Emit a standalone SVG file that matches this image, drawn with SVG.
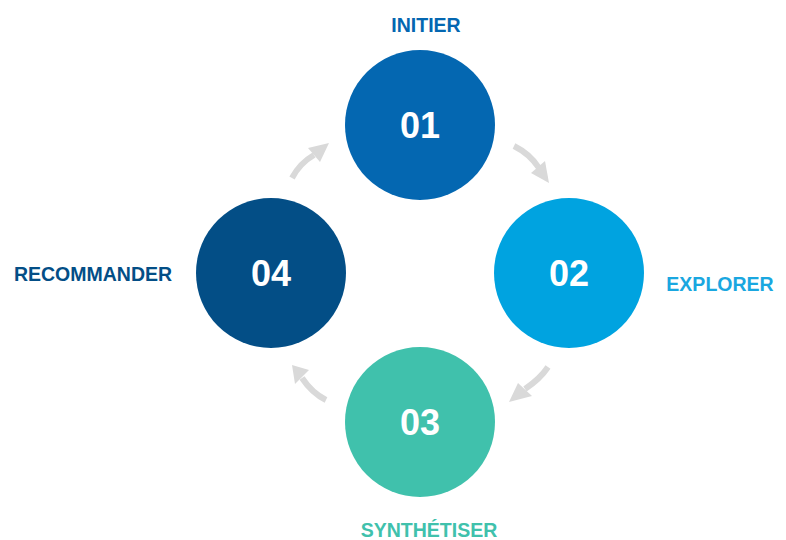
<svg xmlns="http://www.w3.org/2000/svg" width="786" height="540" viewBox="0 0 786 540">
<style>
.num{font-family:"Liberation Sans",Arial,sans-serif;font-weight:bold;font-size:36px;fill:#fff;text-anchor:middle}
.lbl{font-family:"Liberation Sans",Arial,sans-serif;font-weight:bold;font-size:19.5px;text-anchor:middle}
.shaft{fill:none;stroke:#D9D9D9;stroke-width:6;stroke-linecap:butt}
.head{fill:#D9D9D9}
</style>
<rect width="786" height="540" fill="#fff"/>
<g id="connectors">
<path class="shaft" d="M514,146 Q530,154 539,168"/>
<polygon class="head" points="531,173 545,161 549,183"/>
<path class="shaft" d="M548,367 Q540,379 525,389"/>
<polygon class="head" points="518,383 532,396 509,402"/>
<path class="shaft" d="M326,400 Q312,393 302,378"/>
<polygon class="head" points="295,384 309,370 292,365"/>
<path class="shaft" d="M292,178 Q300,163 314,155"/>
<polygon class="head" points="308,148 320,162 329,143"/>
</g>
<g id="node-01">
<circle cx="420" cy="125" r="75" fill="#0467B1"/>
<text class="num" x="420" y="138">01</text>
<text class="lbl" x="426" y="32" fill="#0467B1">INITIER</text>
</g>
<g id="node-02">
<circle cx="569" cy="273" r="75" fill="#00A3E0"/>
<text class="num" x="569" y="286">02</text>
<text class="lbl" x="720" y="291" fill="#1AA7E0">EXPLORER</text>
</g>
<g id="node-03">
<circle cx="420" cy="422" r="75" fill="#40C1AC"/>
<text class="num" x="420" y="435">03</text>
<text class="lbl" x="429" y="537" fill="#40C1AC">SYNTHÉTISER</text>
</g>
<g id="node-04">
<circle cx="271" cy="273" r="75" fill="#034E86"/>
<text class="num" x="271" y="286">04</text>
<text class="lbl" x="93" y="281" fill="#034E86">RECOMMANDER</text>
</g>
</svg>
